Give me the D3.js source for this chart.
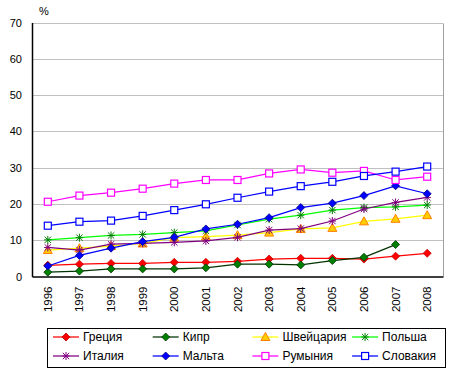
<!DOCTYPE html>
<html><head><meta charset="utf-8">
<script src="https://cdn.jsdelivr.net/npm/d3@7"></script>
<style>body{margin:0;background:#fff}svg{display:block;font-family:"Liberation Sans",Arial,sans-serif}</style>
</head><body><svg id="c" width="454" height="377"></svg>
<script>
const years = ["1996","1997","1998","1999","2000","2001","2002","2003","2004","2005","2006","2007","2008"];
const yTicks = [0,10,20,30,40,50,60,70];
const greece   = [3.1,3.4,3.6,3.6,3.9,3.9,4.2,4.8,5.0,5.0,4.8,5.6,6.4];
const cyprus   = [1.2,1.5,2.1,2.1,2.1,2.4,3.4,3.4,3.2,4.4,5.3,8.8,null];
const swiss    = [7.3,7.8,8.4,9.1,10.7,11.0,11.4,12.1,13.1,13.4,15.2,15.9,16.9];
const poland   = [10.1,10.7,11.3,11.6,12.1,12.6,14.2,15.8,16.9,18.3,19.0,19.2,19.7];
const italy    = [8.0,7.3,8.9,9.1,9.4,9.8,10.8,12.8,13.2,15.3,18.6,20.4,21.8];
const malta    = [2.9,5.8,7.8,9.6,10.8,13.1,14.4,16.2,19.0,20.2,22.3,25.0,22.8];
const romania  = [20.6,22.3,23.1,24.2,25.6,26.6,26.6,28.4,29.5,28.6,29.1,26.6,27.5];
const slovakia = [14.0,15.1,15.4,16.7,18.3,19.9,21.7,23.4,24.9,26.1,27.7,28.9,30.3];
const names = ["Греция","Кипр","Швейцария","Польша","Италия","Мальта","Румыния","Словакия"];

const series = [
  {name:names[0], v:greece,   line:"#FF0000", marker:"diamond", fill:"#FF0000", stroke:"#C00000"},
  {name:names[1], v:cyprus,   line:"#003300", marker:"diamond", fill:"#008000", stroke:"#003300"},
  {name:names[2], v:swiss,    line:"#FFFF00", marker:"triangle", fill:"#FFCC00", stroke:"#FF8000"},
  {name:names[3], v:poland,   line:"#00FF00", marker:"star", fill:"none", stroke:"#008000"},
  {name:names[4], v:italy,    line:"#800080", marker:"star", fill:"none", stroke:"#800080"},
  {name:names[5], v:malta,    line:"#0000FF", marker:"diamond", fill:"#0000FF", stroke:"#000080"},
  {name:names[6], v:romania,  line:"#FF00FF", marker:"square", fill:"#FFFFFF", stroke:"#FF00FF"},
  {name:names[7], v:slovakia, line:"#0000FF", marker:"square", fill:"#FFFFFF", stroke:"#0000FF"}
];

const svg = d3.select("#c");
const L=32, R=443, T=22.5, B=276.5;
const x = d3.scaleBand().domain(years).range([L,R]);
const cx = d => x(d)+x.bandwidth()/2;
const y = d3.scaleLinear().domain([0,70]).range([B,T]);

// gridlines
svg.append("g").selectAll("line").data(yTicks.filter(t=>t>0)).join("line")
  .attr("x1",L).attr("x2",R).attr("y1",d=>Math.round(y(d))+0.5).attr("y2",d=>Math.round(y(d))+0.5)
  .attr("stroke","#C0C0C0").attr("stroke-width",1);
// right border
svg.append("line").attr("x1",R+0.5).attr("x2",R+0.5).attr("y1",Math.round(T)+0.5).attr("y2",B)
  .attr("stroke","#A0A0A0");

// axes
const yAxis = d3.axisLeft(y).tickValues(yTicks).tickSize(0).tickPadding(10);
const gy = svg.append("g").attr("transform",`translate(${L},0)`).call(yAxis);
gy.select(".domain").attr("stroke","#000").attr("stroke-width",1.5);
gy.selectAll("text").attr("font-size",11).attr("fill","#000").attr("font-family","Liberation Sans, Arial, sans-serif");

const xAxis = d3.axisBottom(x).tickSize(0).tickPadding(0);
const gx = svg.append("g").attr("transform",`translate(0,${B})`).call(xAxis);
gx.select(".domain").attr("stroke","#000").attr("stroke-width",1.5);
gx.selectAll("text").attr("font-size",11.5).attr("fill","#000")
  .attr("font-family","Liberation Sans, Arial, sans-serif")
  .attr("text-anchor","end").attr("dy","0.35em")
  .attr("transform","translate(0,10) rotate(-90)").attr("x",0).attr("y",0);

svg.append("text").attr("x",39).attr("y",15).attr("font-size",11).text("%");

// markers
function drawMarker(g, s, px, py){
  if(s.marker==="diamond"){
    g.append("path").attr("d",`M${px},${py-4}L${px+4},${py}L${px},${py+4}L${px-4},${py}Z`)
      .attr("fill",s.fill).attr("stroke",s.stroke).attr("stroke-width",0.8);
  } else if(s.marker==="square"){
    g.append("rect").attr("x",px-3.5).attr("y",py-3.5).attr("width",7).attr("height",7)
      .attr("fill",s.fill).attr("stroke",s.stroke).attr("stroke-width",1.2);
  } else if(s.marker==="triangle"){
    g.append("path").attr("d",`M${px},${py-4.5}L${px+4.5},${py+3.5}L${px-4.5},${py+3.5}Z`)
      .attr("fill",s.fill).attr("stroke",s.stroke).attr("stroke-width",1);
  } else if(s.marker==="star"){
    const r=3.2;
    g.append("path").attr("d",`M${px-r},${py-r}L${px+r},${py+r}M${px-r},${py+r}L${px+r},${py-r}M${px},${py-r-0.8}L${px},${py+r+0.8}M${px-r-0.5},${py}L${px+r+0.5},${py}`)
      .attr("fill","none").attr("stroke",s.stroke).attr("stroke-width",1);
  }
}

const line = d3.line().defined(d=>d.v!=null).x(d=>cx(d.year)).y(d=>y(d.v));
series.forEach(s=>{
  const pts = years.map((yr,i)=>({year:yr, v:s.v[i]}));
  const g = svg.append("g");
  g.append("path").datum(pts).attr("d",line).attr("fill","none").attr("stroke",s.line).attr("stroke-width",1.25);
  pts.filter(p=>p.v!=null).forEach(p=>drawMarker(g,s,cx(p.year),y(p.v)));
});

// legend
const lg = svg.append("g");
lg.append("rect").attr("x",47.5).attr("y",328.5).attr("width",398).attr("height",39)
  .attr("fill","#fff").attr("stroke","#000").attr("stroke-width",1);
series.forEach((s,i)=>{
  const col=i%4, row=Math.floor(i/4);
  const lx = 53 + col*99.7, ly = 337 + row*19;
  lg.append("line").attr("x1",lx).attr("x2",lx+26).attr("y1",ly).attr("y2",ly).attr("stroke",s.line).attr("stroke-width",1.25);
  drawMarker(lg, s, lx+13, ly);
  lg.append("text").attr("x",lx+30).attr("y",ly).attr("dy","0.35em").attr("font-size",12).text(s.name);
});
</script></body></html>
